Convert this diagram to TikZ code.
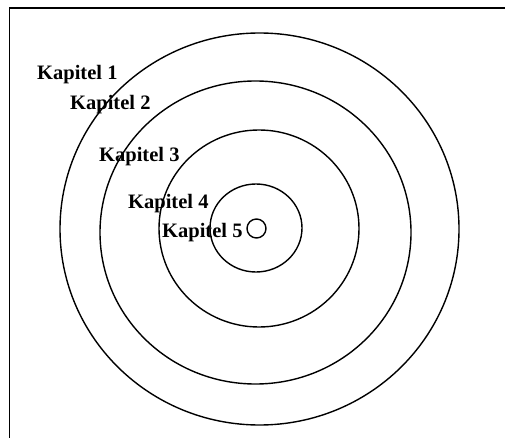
\documentclass[tikz,border=0pt]{standalone}
\usepackage{fontspec}
\setmainfont{Liberation Serif}
\begin{document}
\begin{tikzpicture}[x=1pt,y=-1pt,
  ring/.style={draw=black,line width=1.4pt},
  frameline/.style={draw=black,line width=1.9pt},
  lbl/.style={anchor=base west,inner sep=0pt,font=\fontsize{20.5}{22}\selectfont\bfseries}]
\useasboundingbox (0,0) rectangle (505,438);
\fill[white] (0,0) rectangle (505,438);
% frame (only top and left edges visible)
\draw[frameline] (9.5,438) -- (9.5,8) -- (505,8);
% rings
\draw[ring] (259.5,229) ellipse [x radius=199.5,y radius=196];
\draw[ring] (255.5,232.5) ellipse [x radius=155.5,y radius=151.5];
\draw[ring] (259,228.5) ellipse [x radius=100,y radius=98.5];
\draw[ring] (256,228) ellipse [x radius=46,y radius=44];
\draw[ring] (256.5,228.5) ellipse [x radius=9.5,y radius=9.5];
% labels
\node[lbl] (k1) at (37,80) {Kapitel 1};
\node[lbl] (k2) at (70,110) {Kapitel 2};
\node[lbl] (k3) at (99,162) {Kapitel 3};
\node[lbl] (k4) at (128,208) {Kapitel 4};
\node[lbl] (k5) at (162,237) {Kapitel 5};
\end{tikzpicture}
\end{document}
